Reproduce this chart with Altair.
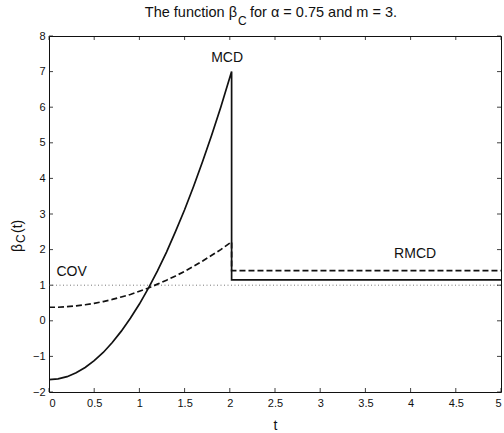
import altair as alt
import pandas as pd

# Sampled values of beta_C(t) for the two estimators before the jump
t_curve = [0.0, 0.1, 0.2, 0.3, 0.4, 0.5, 0.6, 0.7, 0.8, 0.9, 1.0,
           1.1, 1.2, 1.3, 1.4, 1.5, 1.6, 1.7, 1.8, 1.9, 2.02]
mcd_curve = [-1.65, -1.63, -1.57, -1.46, -1.31, -1.12, -0.89, -0.61, -0.29, 0.07, 0.47,
             0.92, 1.40, 1.93, 2.51, 3.12, 3.78, 4.48, 5.22, 6.00, 7.00]
rmcd_curve = [0.38, 0.38, 0.40, 0.42, 0.45, 0.49, 0.54, 0.60, 0.67, 0.74, 0.83,
              0.92, 1.03, 1.14, 1.26, 1.39, 1.53, 1.68, 1.84, 2.00, 2.22]

# Constant levels after the jump
t_jump = 2.02
t_end = 5.0
mcd_after = 1.15
rmcd_after = 1.41
cov_level = 1.0

# Annotations
label_text = ["MCD", "RMCD", "COV"]
label_t = [1.97, 4.05, 0.25]
label_y = [7.38, 1.89, 1.36]

x_ticks = [0, 0.5, 1, 1.5, 2, 2.5, 3, 3.5, 4, 4.5, 5]
y_ticks = [-2, -1, 0, 1, 2, 3, 4, 5, 6, 7, 8]

W, H = 452, 356
FONT = "Liberation Sans"
INK = "#111111"

solid = pd.DataFrame({
    "t": t_curve + [t_jump, t_end],
    "beta": mcd_curve + [mcd_after, mcd_after],
})
solid["order"] = range(len(solid))

dashed = pd.DataFrame({
    "t": t_curve + [t_jump, t_end],
    "beta": rmcd_curve + [rmcd_after, rmcd_after],
})
dashed["order"] = range(len(dashed))

cov = pd.DataFrame({"t": [0.0, t_end], "beta": [cov_level, cov_level]})
labels = pd.DataFrame({"t": label_t, "beta": label_y, "txt": label_text})
xt = pd.DataFrame({"t": x_ticks})
yt = pd.DataFrame({"beta": y_ticks})

xscale = alt.Scale(domain=[0, 5], nice=False, zero=False)
yscale = alt.Scale(domain=[-2, 8], nice=False, zero=False)

xaxis = alt.Axis(values=x_ticks, format="~g", ticks=False, domain=False, grid=False,
                 labelOverlap=False, labelFont=FONT, labelFontSize=11, labelColor=INK,
                 labelPadding=5, title="t", titleFont=FONT, titleFontSize=14,
                 titleFontWeight="normal", titleColor=INK, titlePadding=10)
yaxis = alt.Axis(values=y_ticks, format="~g", ticks=False, domain=False, grid=False,
                 labelOverlap=False, labelFont=FONT, labelFontSize=11, labelColor=INK,
                 labelPadding=4, title=None)

# Every layer carries the same axis definition so the merged axes keep all ticks
X = lambda: alt.X("t:Q", scale=xscale, axis=xaxis)
Y = lambda: alt.Y("beta:Q", scale=yscale, axis=yaxis)

dotted_line = alt.Chart(cov).mark_line(color="#777777", strokeWidth=1, strokeDash=[1, 2.5]).encode(
    x=X(), y=Y(),
)

solid_line = alt.Chart(solid).mark_line(color=INK, strokeWidth=1.7).encode(
    x=X(), y=Y(), order="order:Q",
)

dashed_line = alt.Chart(dashed).mark_line(color=INK, strokeWidth=1.7, strokeDash=[6, 3]).encode(
    x=X(), y=Y(), order="order:Q",
)

annot = alt.Chart(labels).mark_text(font=FONT, fontSize=14, color=INK).encode(
    x=X(), y=Y(), text="txt:N",
)

# Inward ticks on all four sides of the frame
tick_style = dict(color=INK, strokeWidth=0.8)
xt_bottom = alt.Chart(xt).mark_rule(**tick_style).encode(
    x=X(), y=alt.value(H), y2=alt.value(H - 4))
xt_top = alt.Chart(xt).mark_rule(**tick_style).encode(
    x=X(), y=alt.value(0), y2=alt.value(4))
yt_left = alt.Chart(yt).mark_rule(**tick_style).encode(
    y=Y(), x=alt.value(0), x2=alt.value(4))
yt_right = alt.Chart(yt).mark_rule(**tick_style).encode(
    y=Y(), x=alt.value(W), x2=alt.value(W - 4))

# Title and y label with a subscript, built from pieces
def piece(txt, x, y, size, align="left", angle=0):
    return alt.Chart(pd.DataFrame({"s": [txt]})).mark_text(
        font=FONT, fontSize=size, color=INK, align=align, baseline="alphabetic", angle=angle
    ).encode(x=alt.value(x), y=alt.value(y), text="s:N")

title_parts = [
    piece("The function β", 188, -19, 14.5, align="right"),
    piece("C", 189, -11, 12),
    piece("for α = 0.75 and m = 3.", 201, -19, 14.5),
]

ylabel_parts = [
    piece("β", -27, 216, 14, angle=270),
    piece("C", -24, 207, 12, angle=270),
    piece("(t)", -27, 197, 14, angle=270),
]

chart = alt.layer(
    dotted_line, solid_line, dashed_line, annot,
    xt_bottom, xt_top, yt_left, yt_right,
    *title_parts, *ylabel_parts,
).properties(
    width=W, height=H,
    autosize=alt.AutoSizeParams(type="none"),
    padding={"left": 49, "top": 36, "right": 3, "bottom": 41},
    background="white",
).configure_view(stroke=INK, strokeWidth=1)

chart.save("out.html", embed_options={"renderer": "svg", "actions": False})
